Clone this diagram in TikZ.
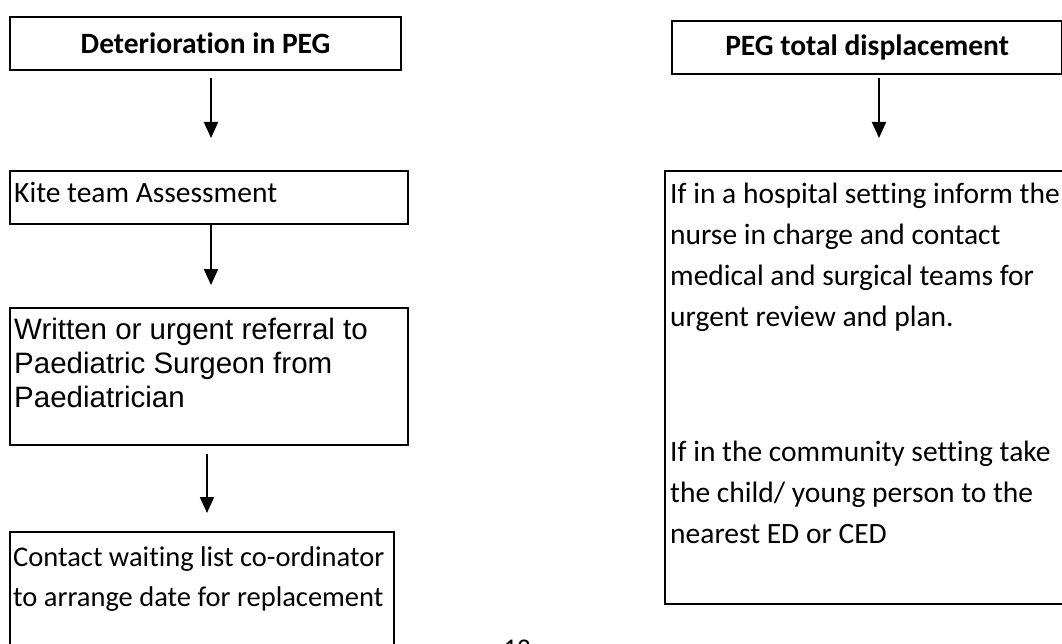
\documentclass[tikz,border=0pt]{standalone}
\usepackage{fontspec}
\setmainfont{Carlito}[Ligatures=CommonOff]
\newfontfamily\arialfont{Liberation Sans}
\usetikzlibrary{arrows.meta}

\tikzset{
  box/.style={draw, line width=2.2pt, rectangle, inner sep=0pt, anchor=north west},
  heading/.style={font=\fontsize{29.5}{34}\selectfont\bfseries, inner sep=0pt},
  % multi-line texts are placed by the baseline of their last line
  body/.style={anchor=base west, inner sep=0pt, align=left,
    font=\fontsize{29.5}{41}\selectfont},
  smallbody/.style={body, font=\fontsize{28.5}{40}\selectfont},
  bodyarial/.style={anchor=base west, inner sep=0pt, align=left,
    font=\arialfont\fontsize{29.5}{34}\selectfont},
  flow/.style={line width=2pt, -{Triangle[width=14pt,length=16pt]}},
}

\begin{document}
\begin{tikzpicture}[x=1pt,y=-1pt]
\useasboundingbox (0,0) rectangle (1062,644);
\clip (0,0) rectangle (1062,644);

% left column: deterioration pathway
\node[box, minimum width=391pt, minimum height=53pt] (det) at (9,16) {};
\node[heading] (detlabel) at (det.center) {Deterioration in PEG};

\node[box, minimum width=398pt, minimum height=53pt] (kite) at (9,170) {};
\node[body] (kitelabel) at (14,203) {Kite team Assessment};

\node[box, minimum width=398pt, minimum height=137pt] (refer) at (9,307) {};
\node[bodyarial] (referlabel) at (14,407)
  {Written or urgent referral to\\Paediatric Surgeon from\\Paediatrician};

\node[box, minimum width=384pt, minimum height=160pt] (wait) at (9,531) {};
\node[smallbody] (waitlabel) at (13,606)
  {Contact waiting list co-ordinator\\to arrange date for replacement};

% right column: total displacement
\node[box, minimum width=390pt, minimum height=53pt] (disp) at (671,20) {};
\node[heading] (displabel) at (disp.center) {PEG total displacement};

\node[box, minimum width=420pt, minimum height=433pt] (act) at (664,170) {};
\node[body] (hosp) at (670,326)
  {If in a hospital setting inform the\\nurse in charge and contact\\medical and surgical teams for\\urgent review and plan.};
\node[body] (comm) at (670,543)
  {If in the community setting take\\the child/ young person to the\\nearest ED or CED};

% connectors
\coordinate (a1s) at (211,78);  \coordinate (a1e) at (211,138);
\coordinate (a2s) at (211,225); \coordinate (a2e) at (211,285);
\coordinate (a3s) at (207,454); \coordinate (a3e) at (207,513);
\coordinate (b1s) at (879,78);  \coordinate (b1e) at (879,138);
\draw[flow] (a1s) -- (a1e);
\draw[flow] (a2s) -- (a2e);
\draw[flow] (a3s) -- (a3e);
\draw[flow] (b1s) -- (b1e);

% page number, cut by the lower edge
\node[anchor=north, inner sep=0pt, font=\fontsize{27}{32}\selectfont] (pageno) at (517,640) {12};
\end{tikzpicture}
\end{document}
